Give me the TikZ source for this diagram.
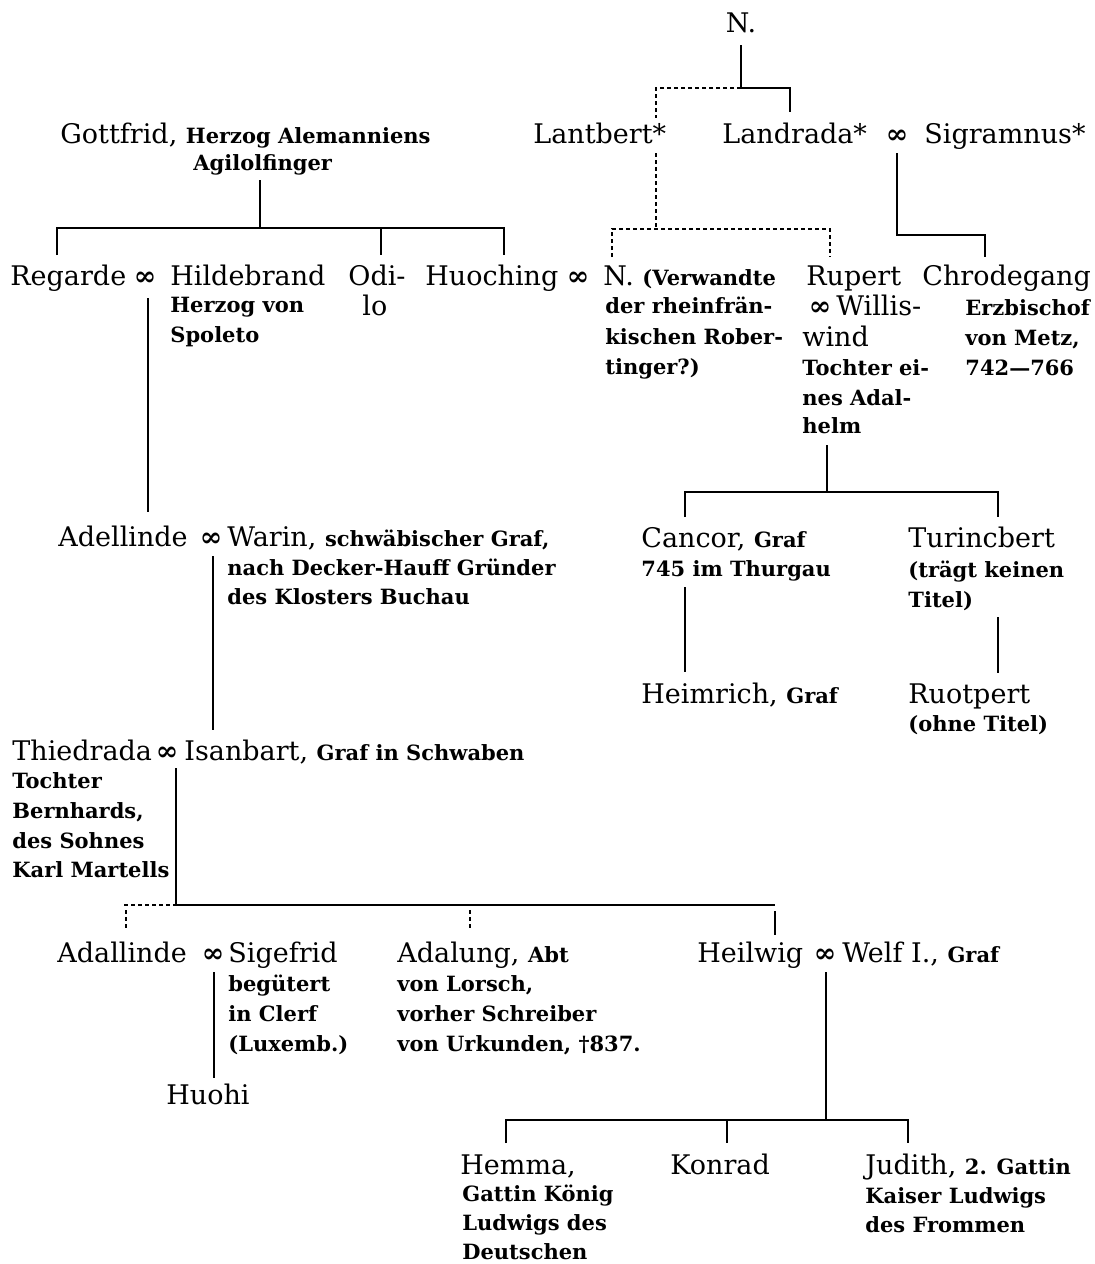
\documentclass[tikz,border=0pt]{standalone}
\usepackage{fontspec}
\setmainfont{DejaVu Serif}
\usepackage{tikz}

\newcommand{\klein}[1]{{\fontsize{10.5}{15}\selectfont\bfseries #1}}

\tikzset{
  nm/.style={anchor=base west, inner sep=0pt, font=\fontsize{13.5}{17}\selectfont},
  sm/.style={anchor=base west, inner sep=0pt, font=\fontsize{10.5}{15}\selectfont\bfseries},
  ehe/.style={anchor=base, inner sep=0pt, font=\fontsize{13.5}{15}\selectfont\bfseries},
  linie/.style={line width=0.65pt},
  strich/.style={line width=0.65pt, dashed, dash pattern=on 2pt off 1.5pt}
}

\begin{document}
\begin{tikzpicture}[x=0.5pt,y=-0.5pt]
\useasboundingbox (0,0) rectangle (1094,1264);

    % oberste Zeile
    \node[nm, anchor=base] (n0) at (741,32) {N.};

    \node[nm] (lantbert) at (533,143) {Lantbert*};
    \node[nm] (landrada) at (722,143) {Landrada*};
    \node[ehe] (e1) at (897,143) {∞};
    \node[nm] (sigramnus) at (924,143) {Sigramnus*};

    \node[nm] (gottfrid) at (60,143) {Gottfrid, \klein{Herzog Alemanniens}};
    \node[sm] (gottfrid2) at (193,170) {Agilolfinger};

    % zweite Reihe
    \node[nm] (regarde) at (10,285) {Regarde};
    \node[ehe] (e2) at (145,285) {∞};
    \node[nm] (hildebrand) at (170,285) {Hildebrand};
    \node[sm] (hildebrand2) at (170,312) {Herzog von};
    \node[sm] (hildebrand3) at (170,342) {Spoleto};
    \node[nm] (odilo) at (348,285) {Odi-};
    \node[nm] (odilo2) at (362,315) {lo};
    \node[nm] (huoching) at (425,285) {Huoching};
    \node[ehe] (e3) at (578,285) {∞};
    \node[nm] (nv) at (603,285) {N. \klein{(Verwandte}};
    \node[sm] (nv2) at (605,313) {der rheinfrän-};
    \node[sm] (nv3) at (605,344) {kischen Rober-};
    \node[sm] (nv4) at (605,374) {tinger?)};
    \node[nm] (rupert) at (806,285) {Rupert};
    \node[ehe] (e4) at (820,315) {∞};
    \node[nm] (rupert2) at (836,315) {Willis-};
    \node[nm] (rupert3) at (802,346) {wind};
    \node[sm] (rupert4) at (802,375) {Tochter ei-};
    \node[sm] (rupert5) at (802,405) {nes Adal-};
    \node[sm] (rupert6) at (802,433) {helm};
    \node[nm] (chrodegang) at (922,285) {Chrodegang};
    \node[sm] (chrodegang2) at (965,315) {Erzbischof};
    \node[sm] (chrodegang3) at (965,345) {von Metz,};
    \node[sm] (chrodegang4) at (965,375) {742—766};

    % Cancor, Turincbert
    \node[nm] (cancor) at (641,547) {Cancor, \klein{Graf}};
    \node[sm] (cancor2) at (641,576) {745 im Thurgau};
    \node[nm] (turincbert) at (908,547) {Turincbert};
    \node[sm] (turincbert2) at (908,577) {(trägt keinen};
    \node[sm] (turincbert3) at (908,607) {Titel)};
    \node[nm] (heimrich) at (641,703) {Heimrich, \klein{Graf}};
    \node[nm] (ruotpert) at (908,703) {Ruotpert};
    \node[sm] (ruotpert2) at (908,731) {(ohne Titel)};

    % linke Seite
    \node[nm] (adellinde) at (58,546) {Adellinde};
    \node[ehe] (e5) at (211,546) {∞};
    \node[nm] (warin) at (227,546) {Warin, \klein{schwäbischer Graf,}};
    \node[sm] (warin2) at (227,575) {nach Decker-Hauff Gründer};
    \node[sm] (warin3) at (227,604) {des Klosters Buchau};

    \node[nm] (thiedrada) at (12,760) {Thiedrada};
    \node[ehe] (e6) at (167,760) {∞};
    \node[nm] (isanbart) at (184,760) {Isanbart, \klein{Graf in Schwaben}};
    \node[sm] (thiedrada2) at (12,788) {Tochter};
    \node[sm] (thiedrada3) at (12,818) {Bernhards,};
    \node[sm] (thiedrada4) at (12,848) {des Sohnes};
    \node[sm] (thiedrada5) at (12,877) {Karl Martells};

    \node[nm] (adallinde) at (57,962) {Adallinde};
    \node[ehe] (e7) at (213,962) {∞};
    \node[nm] (sigefrid) at (228,962) {Sigefrid};
    \node[sm] (sigefrid2) at (228,991) {begütert};
    \node[sm] (sigefrid3) at (228,1021) {in Clerf};
    \node[sm] (sigefrid4) at (228,1051) {(Luxemb.)};
    \node[nm] (huohi) at (166,1104) {Huohi};

    \node[nm] (adalung) at (397,962) {Adalung, \klein{Abt}};
    \node[sm] (adalung2) at (397,991) {von Lorsch,};
    \node[sm] (adalung3) at (397,1021) {vorher Schreiber};
    \node[sm] (adalung4) at (397,1051) {von Urkunden, †837.};

    \node[nm] (heilwig) at (697,962) {Heilwig};
    \node[ehe] (e8) at (825,962) {∞};
    \node[nm] (welf) at (842,962) {Welf I., \klein{Graf}};

    \node[nm] (hemma) at (460,1174) {Hemma,};
    \node[sm] (hemma2) at (462,1201) {Gattin König};
    \node[sm] (hemma3) at (462,1230) {Ludwigs des};
    \node[sm] (hemma4) at (462,1259) {Deutschen};
    \node[nm] (konrad) at (670,1174) {Konrad};
    \node[nm] (judith) at (865,1174) {Judith, \klein{2. Gattin}};
    \node[sm] (judith2) at (865,1203) {Kaiser Ludwigs};
    \node[sm] (judith3) at (865,1232) {des Frommen};

    % Anschlusspunkte
    \coordinate (n0-dn) at (741,45);
    \coordinate (n0-gab) at (741,88);
    \coordinate (lantbert-up) at (656,118);
    \coordinate (landrada-up) at (790,112);
    \coordinate (lantbert-dn) at (656,153);
    \coordinate (lantbert-gab) at (656,229);
    \coordinate (nv-up) at (612,257);
    \coordinate (rupert-gab) at (830,229);
    \coordinate (rupert-up) at (830,257);
    \coordinate (e1-dn) at (897,153);
    \coordinate (chrodegang-gab) at (985,235);
    \coordinate (chrodegang-up) at (985,257);

    \coordinate (gottfrid-dn) at (260,180);
    \coordinate (gottfrid-gab) at (260,228);
    \coordinate (regarde-up) at (57,255);
    \coordinate (odilo-gab) at (381,228);
    \coordinate (odilo-up) at (381,255);
    \coordinate (huoching-gab) at (504,228);
    \coordinate (huoching-up) at (504,255);

    \coordinate (e2-dn) at (148,298);
    \coordinate (adellinde-up) at (148,512);
    \coordinate (e5-dn) at (213,556);
    \coordinate (isanbart-up) at (213,730);
    \coordinate (e6-dn) at (176,768);
    \coordinate (e6-gab) at (176,905);
    \coordinate (links-gab) at (124,905);
    \coordinate (adallinde-up) at (126,930);
    \coordinate (adallinde-gab) at (126,910);
    \coordinate (adalung-gab) at (470,910);
    \coordinate (adalung-up) at (470,930);
    \coordinate (rechts-gab) at (775,905);
    \coordinate (heilwig-gab) at (775,911);
    \coordinate (heilwig-up) at (775,935);
    \coordinate (e7-dn) at (214,972);
    \coordinate (huohi-up) at (214,1078);
    \coordinate (e8-dn) at (826,972);
    \coordinate (e8-gab) at (826,1120);
    \coordinate (hemma-up) at (506,1143);
    \coordinate (konrad-gab) at (727,1120);
    \coordinate (konrad-up) at (727,1143);
    \coordinate (judith-gab) at (908,1120);
    \coordinate (judith-up) at (908,1143);

    \coordinate (rupert-dn) at (827,445);
    \coordinate (rupert-gab2) at (827,492);
    \coordinate (cancor-up) at (685,517);
    \coordinate (turincbert-gab) at (998,492);
    \coordinate (turincbert-up) at (998,517);
    \coordinate (cancor-dn) at (685,587);
    \coordinate (heimrich-up) at (685,672);
    \coordinate (turincbert-dn) at (998,617);
    \coordinate (ruotpert-up) at (998,673);

    % die Linien
    \draw[linie] (n0-dn) -- (n0-gab) -| (landrada-up);
    \draw[strich] (n0-gab) -| (lantbert-up);
    \draw[strich] (lantbert-dn) -- (lantbert-gab);
    \draw[strich] (nv-up) |- (rupert-gab) -- (rupert-up);
    \draw[linie] (e1-dn) |- (chrodegang-gab) -- (chrodegang-up);

    \draw[linie] (gottfrid-dn) -- (gottfrid-gab);
    \draw[linie] (regarde-up) |- (huoching-gab) -- (huoching-up);
    \draw[linie] (odilo-gab) -- (odilo-up);

    \draw[linie] (e2-dn) -- (adellinde-up);
    \draw[linie] (e5-dn) -- (isanbart-up);
    \draw[linie] (e6-dn) -- (e6-gab) -- (rechts-gab);
    \draw[strich] (links-gab) -- (e6-gab);
    \draw[strich] (adallinde-gab) -- (adallinde-up);
    \draw[strich] (adalung-gab) -- (adalung-up);
    \draw[linie] (heilwig-gab) -- (heilwig-up);
    \draw[linie] (e7-dn) -- (huohi-up);
    \draw[linie] (e8-dn) -- (e8-gab);
    \draw[linie] (hemma-up) |- (judith-gab) -- (judith-up);
    \draw[linie] (konrad-gab) -- (konrad-up);

    \draw[linie] (rupert-dn) -- (rupert-gab2);
    \draw[linie] (cancor-up) |- (turincbert-gab) -- (turincbert-up);
    \draw[linie] (cancor-dn) -- (heimrich-up);
    \draw[linie] (turincbert-dn) -- (ruotpert-up);

\end{tikzpicture}
\end{document}
